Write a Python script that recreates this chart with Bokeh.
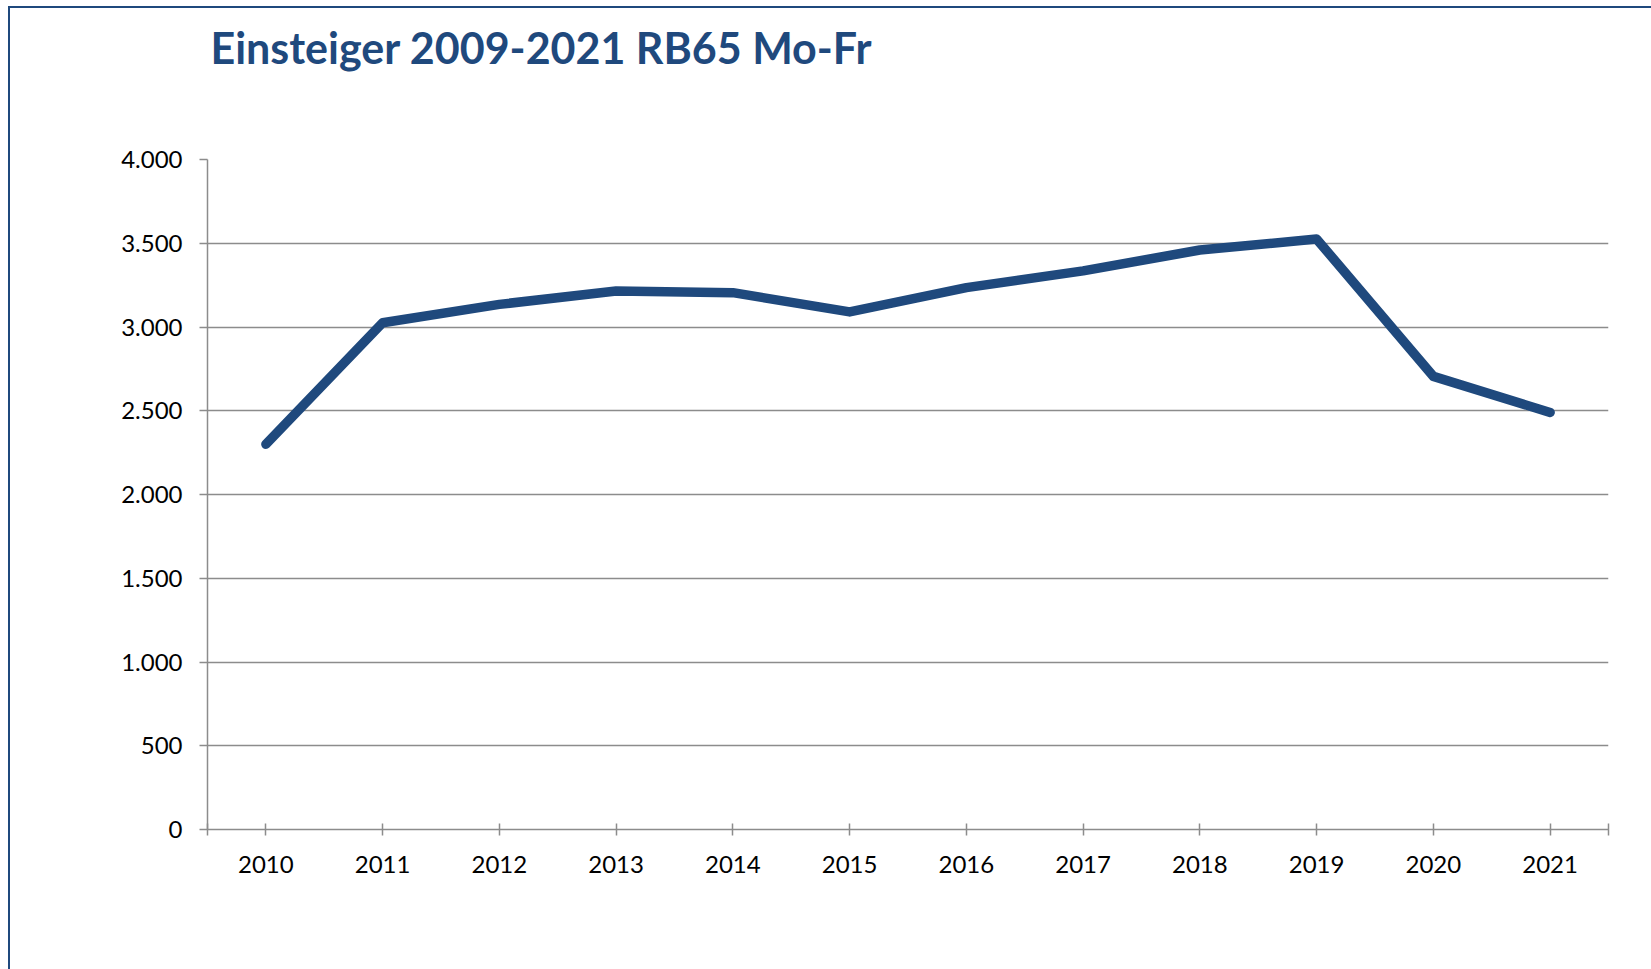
from bokeh.plotting import figure
from bokeh.models import FixedTicker, Range1d, Title
from bokeh.embed import file_html
from bokeh.resources import INLINE

# Data
years = [2010, 2011, 2012, 2013, 2014, 2015, 2016, 2017, 2018, 2019, 2020, 2021]
einsteiger = [2300, 3025, 3135, 3215, 3205, 3090, 3235, 3335, 3460, 3525, 2705, 2490]
y_ticks = [0, 500, 1000, 1500, 2000, 2500, 3000, 3500, 4000]
y_tick_labels = ["0", "500", "1.000", "1.500", "2.000", "2.500", "3.000", "3.500", "4.000"]
title_text = "Einsteiger 2009-2021 RB65 Mo-Fr"

FONT = "Lato"
BLUE = "#1F497D"
GRID = "#8C8C8C"

p = figure(width=1651, height=969, output_backend="svg", toolbar_location=None,
           x_range=Range1d(years[0] - 0.5, years[-1] + 0.5),
           y_range=Range1d(0, 4000),
           min_border_left=207, min_border_right=43,
           min_border_top=159, min_border_bottom=140)

p.styles = {"box-shadow": ("inset 0 6px 0 0 #ffffff, inset 8px 0 0 0 #ffffff, "
                           "inset 0 8px 0 0 " + BLUE + ", inset 10px 0 0 0 " + BLUE),
            "background-color": "#ffffff"}

# spacer between the frame and the title
spacer = Title(text=" ", text_font_size="10px", standoff=69)
p.add_layout(spacer, "above")

p.title.text = title_text
p.title.text_font = FONT
p.title.text_font_size = "43px"
p.title.text_font_style = "bold"
p.title.text_color = BLUE
p.title.align = "left"
p.title.offset = 3
p.title.standoff = 10

p.outline_line_color = None
p.background_fill_color = "white"
p.border_fill_color = None

# x axis
x_tick_positions = [years[0] - 0.5] + years + [years[-1] + 0.5]
p.xaxis.ticker = FixedTicker(ticks=x_tick_positions)
overrides = {y: str(y) for y in years}
overrides[years[0] - 0.5] = ""
overrides[years[-1] + 0.5] = ""
p.xaxis.major_label_overrides = overrides
p.xaxis.axis_line_color = GRID
p.xaxis.axis_line_width = 1.5
p.xaxis.major_tick_line_color = GRID
p.xaxis.major_tick_line_width = 1.5
p.xaxis.major_tick_in = 6
p.xaxis.major_tick_out = 6
p.xaxis.minor_tick_line_color = None
p.xaxis.major_label_text_font = FONT
p.xaxis.major_label_text_font_size = "24px"
p.xaxis.major_label_text_color = "black"
p.xaxis.major_label_standoff = 20
p.xgrid.grid_line_color = None

# y axis
p.yaxis.ticker = FixedTicker(ticks=y_ticks)
p.yaxis.major_label_overrides = {t: l for t, l in zip(y_ticks, y_tick_labels)}
p.yaxis.axis_line_color = GRID
p.yaxis.axis_line_width = 1.5
p.yaxis.major_tick_line_color = GRID
p.yaxis.major_tick_line_width = 1.5
p.yaxis.major_tick_in = 0
p.yaxis.major_tick_out = 8
p.yaxis.minor_tick_line_color = None
p.yaxis.major_label_text_font = FONT
p.yaxis.major_label_text_font_size = "24px"
p.yaxis.major_label_text_color = "black"
p.yaxis.major_label_standoff = 17
p.ygrid.grid_line_color = GRID
p.ygrid.grid_line_width = 1.5

p.line(years, einsteiger, line_color=BLUE, line_width=9.5,
       line_cap="round", line_join="round")

open("out.html", "w").write(file_html(p, INLINE))
